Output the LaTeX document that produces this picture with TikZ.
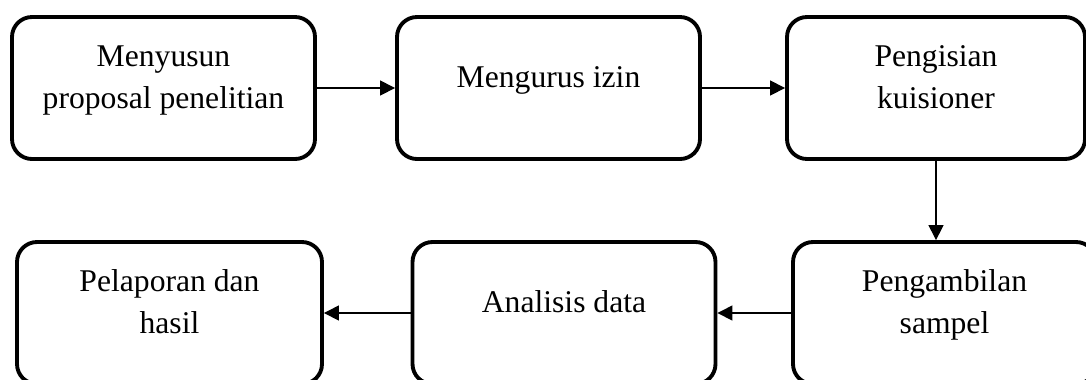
\documentclass[tikz,border=0pt]{standalone}
\usepackage{fontspec}
\setmainfont{Liberation Serif}
\usetikzlibrary{positioning, calc, arrows.meta}
\tikzset{
    stage node/.style={rectangle, draw, rounded corners=0.4cm, line width=2.2pt, minimum width=6.06cm, minimum height=2.84cm, align=center, text depth=0.45cm, font=\fontsize{18}{24}\selectfont},
    flow arrow/.style={-{Triangle[length=8.5pt, width=8.5pt]}, line width=0.8pt},
}

\begin{document}
\begin{tikzpicture}
            \useasboundingbox (0,0) rectangle (21.72,-7.58);
            \node[stage node] (menyusun) at (3.27,-1.76) {Menyusun\\proposal penelitian};
            \node[stage node] (izin) at (10.97,-1.76) {Mengurus izin};
            \node[stage node, minimum width=5.96cm] (kuisioner) at (18.72,-1.76) {Pengisian\\kuisioner};
            \node[stage node, minimum width=6.1cm] (pelaporan) at (3.39,-6.26) {Pelaporan dan\\hasil};
            \node[stage node] (analisis) at (11.28,-6.26) {Analisis data};
            \node[stage node] (sampel) at (18.89,-6.26) {Pengambilan\\sampel};
            \draw[flow arrow] (menyusun.east) -- (izin.west);
            \draw[flow arrow] (izin.east) -- (kuisioner.west);
            \draw[flow arrow] (kuisioner.south) -- (kuisioner.south |- sampel.north);
            \draw[flow arrow] (sampel.west) -- (analisis.east);
            \draw[flow arrow] (analisis.west) -- (pelaporan.east);
        \end{tikzpicture}
\end{document}
